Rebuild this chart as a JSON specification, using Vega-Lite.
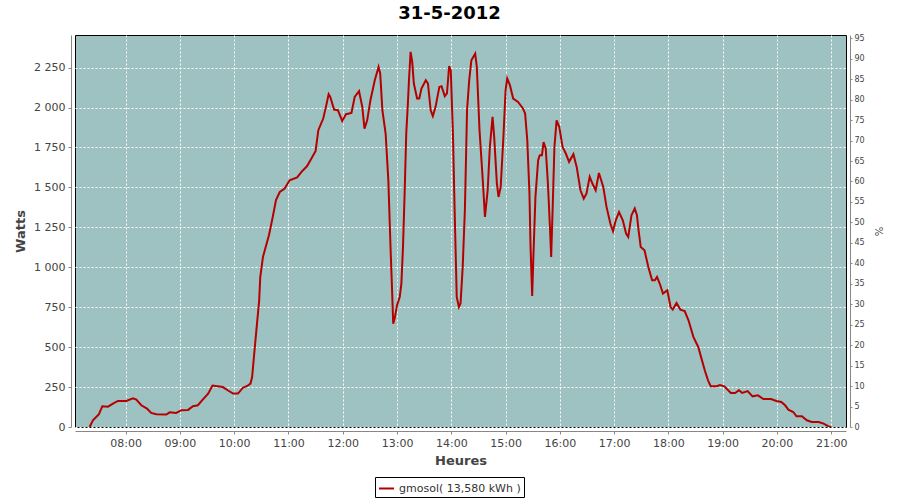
{
  "$schema": "https://vega.github.io/schema/vega-lite/v6.json",
  "width": 771,
  "height": 392,
  "autosize": "none",
  "padding": {"left": 75, "top": 35, "right": 54, "bottom": 73},
  "background": "white",
  "title": {
    "text": "31-5-2012",
    "font": "DejaVu Sans",
    "fontSize": 18,
    "fontWeight": "bold",
    "color": "#000000",
    "anchor": "middle",
    "dx": -11,
    "offset": 11
  },
  "config": {
    "view": {"fill": "#9EC2C2", "stroke": "#000000", "strokeWidth": 1},
    "axis": {
      "labelFont": "DejaVu Sans",
      "titleFont": "DejaVu Sans",
      "labelFontSize": 11,
      "labelColor": "#444444",
      "titleColor": "#444444",
      "titleFontSize": 13,
      "titleFontWeight": "bold",
      "domainColor": "#888888",
      "tickColor": "#888888",
      "gridColor": "#FFFFFF",
      "gridDash": [2, 2],
      "gridOpacity": 1,
      "gridWidth": 1
    }
  },
  "data": {
    "values": [
      {"t": "2012-05-31T07:20:10", "W": 0},
      {"t": "2012-05-31T07:23:49", "W": 42},
      {"t": "2012-05-31T07:30:29", "W": 80},
      {"t": "2012-05-31T07:34:12", "W": 130},
      {"t": "2012-05-31T07:40:26", "W": 127},
      {"t": "2012-05-31T07:45:58", "W": 146},
      {"t": "2012-05-31T07:51:29", "W": 163},
      {"t": "2012-05-31T08:00:36", "W": 163},
      {"t": "2012-05-31T08:08:06", "W": 180},
      {"t": "2012-05-31T08:11:46", "W": 171},
      {"t": "2012-05-31T08:17:17", "W": 136},
      {"t": "2012-05-31T08:23:35", "W": 115},
      {"t": "2012-05-31T08:28:12", "W": 88},
      {"t": "2012-05-31T08:33:54", "W": 80},
      {"t": "2012-05-31T08:45:00", "W": 78},
      {"t": "2012-05-31T08:48:36", "W": 92},
      {"t": "2012-05-31T08:55:48", "W": 88},
      {"t": "2012-05-31T09:01:48", "W": 105},
      {"t": "2012-05-31T09:09:00", "W": 107},
      {"t": "2012-05-31T09:14:24", "W": 130},
      {"t": "2012-05-31T09:19:48", "W": 136},
      {"t": "2012-05-31T09:25:12", "W": 171},
      {"t": "2012-05-31T09:31:12", "W": 209},
      {"t": "2012-05-31T09:36:00", "W": 259},
      {"t": "2012-05-31T09:47:24", "W": 250},
      {"t": "2012-05-31T09:52:48", "W": 230},
      {"t": "2012-05-31T09:58:48", "W": 209},
      {"t": "2012-05-31T10:04:12", "W": 209},
      {"t": "2012-05-31T10:09:36", "W": 246},
      {"t": "2012-05-31T10:15:00", "W": 259},
      {"t": "2012-05-31T10:18:00", "W": 272},
      {"t": "2012-05-31T10:19:48", "W": 313},
      {"t": "2012-05-31T10:22:48", "W": 501},
      {"t": "2012-05-31T10:25:12", "W": 647},
      {"t": "2012-05-31T10:27:36", "W": 793},
      {"t": "2012-05-31T10:28:48", "W": 939},
      {"t": "2012-05-31T10:31:48", "W": 1065},
      {"t": "2012-05-31T10:34:48", "W": 1127},
      {"t": "2012-05-31T10:38:24", "W": 1200},
      {"t": "2012-05-31T10:42:36", "W": 1315},
      {"t": "2012-05-31T10:46:12", "W": 1420},
      {"t": "2012-05-31T10:50:24", "W": 1471},
      {"t": "2012-05-31T10:55:48", "W": 1493},
      {"t": "2012-05-31T11:01:12", "W": 1545},
      {"t": "2012-05-31T11:09:36", "W": 1562},
      {"t": "2012-05-31T11:14:24", "W": 1597},
      {"t": "2012-05-31T11:20:24", "W": 1632},
      {"t": "2012-05-31T11:25:12", "W": 1680},
      {"t": "2012-05-31T11:30:00", "W": 1728},
      {"t": "2012-05-31T11:33:00", "W": 1858},
      {"t": "2012-05-31T11:38:24", "W": 1931},
      {"t": "2012-05-31T11:41:24", "W": 2004},
      {"t": "2012-05-31T11:44:24", "W": 2083},
      {"t": "2012-05-31T11:46:12", "W": 2066},
      {"t": "2012-05-31T11:50:24", "W": 1987},
      {"t": "2012-05-31T11:54:36", "W": 1983},
      {"t": "2012-05-31T11:59:24", "W": 1916},
      {"t": "2012-05-31T12:03:36", "W": 1958},
      {"t": "2012-05-31T12:09:36", "W": 1966},
      {"t": "2012-05-31T12:13:12", "W": 2066},
      {"t": "2012-05-31T12:18:00", "W": 2102},
      {"t": "2012-05-31T12:21:36", "W": 2004},
      {"t": "2012-05-31T12:24:00", "W": 1868},
      {"t": "2012-05-31T12:27:00", "W": 1920},
      {"t": "2012-05-31T12:30:36", "W": 2046},
      {"t": "2012-05-31T12:35:24", "W": 2171},
      {"t": "2012-05-31T12:39:36", "W": 2254},
      {"t": "2012-05-31T12:41:24", "W": 2213},
      {"t": "2012-05-31T12:43:48", "W": 1983},
      {"t": "2012-05-31T12:47:24", "W": 1837},
      {"t": "2012-05-31T12:50:24", "W": 1545},
      {"t": "2012-05-31T12:52:48", "W": 1127},
      {"t": "2012-05-31T12:54:00", "W": 939},
      {"t": "2012-05-31T12:55:48", "W": 647},
      {"t": "2012-05-31T12:57:36", "W": 685},
      {"t": "2012-05-31T13:00:00", "W": 762},
      {"t": "2012-05-31T13:03:00", "W": 814},
      {"t": "2012-05-31T13:04:48", "W": 898},
      {"t": "2012-05-31T13:06:36", "W": 1127},
      {"t": "2012-05-31T13:08:24", "W": 1461},
      {"t": "2012-05-31T13:10:12", "W": 1837},
      {"t": "2012-05-31T13:12:00", "W": 2025},
      {"t": "2012-05-31T13:13:12", "W": 2171},
      {"t": "2012-05-31T13:15:00", "W": 2348},
      {"t": "2012-05-31T13:16:48", "W": 2286},
      {"t": "2012-05-31T13:18:36", "W": 2150},
      {"t": "2012-05-31T13:22:12", "W": 2056},
      {"t": "2012-05-31T13:24:36", "W": 2056},
      {"t": "2012-05-31T13:27:00", "W": 2119},
      {"t": "2012-05-31T13:31:48", "W": 2171},
      {"t": "2012-05-31T13:34:12", "W": 2150},
      {"t": "2012-05-31T13:37:12", "W": 1983},
      {"t": "2012-05-31T13:39:36", "W": 1946},
      {"t": "2012-05-31T13:42:36", "W": 2004},
      {"t": "2012-05-31T13:46:48", "W": 2129},
      {"t": "2012-05-31T13:49:12", "W": 2133},
      {"t": "2012-05-31T13:52:48", "W": 2071},
      {"t": "2012-05-31T13:55:12", "W": 2088},
      {"t": "2012-05-31T13:57:36", "W": 2259},
      {"t": "2012-05-31T13:59:24", "W": 2234},
      {"t": "2012-05-31T14:01:48", "W": 1837},
      {"t": "2012-05-31T14:03:36", "W": 1378},
      {"t": "2012-05-31T14:06:00", "W": 814},
      {"t": "2012-05-31T14:08:24", "W": 751},
      {"t": "2012-05-31T14:10:12", "W": 773},
      {"t": "2012-05-31T14:12:36", "W": 1002},
      {"t": "2012-05-31T14:15:00", "W": 1357},
      {"t": "2012-05-31T14:17:24", "W": 1983},
      {"t": "2012-05-31T14:19:48", "W": 2171},
      {"t": "2012-05-31T14:22:12", "W": 2296},
      {"t": "2012-05-31T14:26:24", "W": 2338},
      {"t": "2012-05-31T14:28:12", "W": 2254},
      {"t": "2012-05-31T14:31:12", "W": 1858},
      {"t": "2012-05-31T14:34:48", "W": 1545},
      {"t": "2012-05-31T14:37:12", "W": 1315},
      {"t": "2012-05-31T14:40:12", "W": 1482},
      {"t": "2012-05-31T14:42:36", "W": 1753},
      {"t": "2012-05-31T14:45:36", "W": 1941},
      {"t": "2012-05-31T14:47:24", "W": 1816},
      {"t": "2012-05-31T14:50:24", "W": 1524},
      {"t": "2012-05-31T14:52:12", "W": 1440},
      {"t": "2012-05-31T14:54:36", "W": 1503},
      {"t": "2012-05-31T14:57:36", "W": 1816},
      {"t": "2012-05-31T15:00:00", "W": 2108},
      {"t": "2012-05-31T15:01:48", "W": 2182},
      {"t": "2012-05-31T15:04:48", "W": 2140},
      {"t": "2012-05-31T15:08:24", "W": 2056},
      {"t": "2012-05-31T15:13:48", "W": 2035},
      {"t": "2012-05-31T15:19:12", "W": 1994},
      {"t": "2012-05-31T15:21:36", "W": 1962},
      {"t": "2012-05-31T15:24:00", "W": 1795},
      {"t": "2012-05-31T15:26:24", "W": 1461},
      {"t": "2012-05-31T15:27:36", "W": 1127},
      {"t": "2012-05-31T15:29:24", "W": 820},
      {"t": "2012-05-31T15:30:36", "W": 1044},
      {"t": "2012-05-31T15:33:00", "W": 1440},
      {"t": "2012-05-31T15:36:00", "W": 1670},
      {"t": "2012-05-31T15:37:48", "W": 1701},
      {"t": "2012-05-31T15:40:12", "W": 1701},
      {"t": "2012-05-31T15:42:00", "W": 1784},
      {"t": "2012-05-31T15:44:24", "W": 1743},
      {"t": "2012-05-31T15:46:48", "W": 1524},
      {"t": "2012-05-31T15:49:12", "W": 1232},
      {"t": "2012-05-31T15:50:24", "W": 1065},
      {"t": "2012-05-31T15:52:12", "W": 1399},
      {"t": "2012-05-31T15:54:00", "W": 1753},
      {"t": "2012-05-31T15:56:24", "W": 1920},
      {"t": "2012-05-31T15:59:24", "W": 1878},
      {"t": "2012-05-31T16:03:00", "W": 1753},
      {"t": "2012-05-31T16:06:36", "W": 1712},
      {"t": "2012-05-31T16:10:12", "W": 1660},
      {"t": "2012-05-31T16:15:00", "W": 1708},
      {"t": "2012-05-31T16:18:36", "W": 1628},
      {"t": "2012-05-31T16:22:48", "W": 1482},
      {"t": "2012-05-31T16:26:24", "W": 1430},
      {"t": "2012-05-31T16:29:24", "W": 1461},
      {"t": "2012-05-31T16:33:00", "W": 1566},
      {"t": "2012-05-31T16:36:00", "W": 1524},
      {"t": "2012-05-31T16:39:36", "W": 1482},
      {"t": "2012-05-31T16:43:12", "W": 1590},
      {"t": "2012-05-31T16:48:00", "W": 1503},
      {"t": "2012-05-31T16:51:36", "W": 1378},
      {"t": "2012-05-31T16:55:48", "W": 1274},
      {"t": "2012-05-31T16:58:48", "W": 1225},
      {"t": "2012-05-31T17:01:48", "W": 1294},
      {"t": "2012-05-31T17:05:24", "W": 1346},
      {"t": "2012-05-31T17:09:36", "W": 1294},
      {"t": "2012-05-31T17:13:12", "W": 1211},
      {"t": "2012-05-31T17:15:36", "W": 1190},
      {"t": "2012-05-31T17:19:12", "W": 1326},
      {"t": "2012-05-31T17:22:48", "W": 1368},
      {"t": "2012-05-31T17:25:12", "W": 1326},
      {"t": "2012-05-31T17:27:00", "W": 1232},
      {"t": "2012-05-31T17:29:24", "W": 1127},
      {"t": "2012-05-31T17:33:36", "W": 1106},
      {"t": "2012-05-31T17:37:48", "W": 1002},
      {"t": "2012-05-31T17:42:00", "W": 918},
      {"t": "2012-05-31T17:45:00", "W": 918},
      {"t": "2012-05-31T17:47:24", "W": 939},
      {"t": "2012-05-31T17:50:24", "W": 898},
      {"t": "2012-05-31T17:54:00", "W": 835},
      {"t": "2012-05-31T17:58:48", "W": 856},
      {"t": "2012-05-31T18:02:24", "W": 751},
      {"t": "2012-05-31T18:04:48", "W": 735},
      {"t": "2012-05-31T18:09:00", "W": 776},
      {"t": "2012-05-31T18:13:12", "W": 735},
      {"t": "2012-05-31T18:18:00", "W": 726},
      {"t": "2012-05-31T18:22:12", "W": 668},
      {"t": "2012-05-31T18:27:36", "W": 564},
      {"t": "2012-05-31T18:33:00", "W": 501},
      {"t": "2012-05-31T18:36:36", "W": 428},
      {"t": "2012-05-31T18:40:12", "W": 355},
      {"t": "2012-05-31T18:43:48", "W": 292},
      {"t": "2012-05-31T18:46:48", "W": 255},
      {"t": "2012-05-31T18:53:24", "W": 255},
      {"t": "2012-05-31T18:57:00", "W": 263},
      {"t": "2012-05-31T19:01:48", "W": 255},
      {"t": "2012-05-31T19:09:00", "W": 213},
      {"t": "2012-05-31T19:13:48", "W": 213},
      {"t": "2012-05-31T19:18:00", "W": 230},
      {"t": "2012-05-31T19:21:36", "W": 213},
      {"t": "2012-05-31T19:27:36", "W": 225},
      {"t": "2012-05-31T19:33:00", "W": 192},
      {"t": "2012-05-31T19:39:00", "W": 198},
      {"t": "2012-05-31T19:45:00", "W": 175},
      {"t": "2012-05-31T19:53:24", "W": 175},
      {"t": "2012-05-31T19:59:24", "W": 163},
      {"t": "2012-05-31T20:04:48", "W": 157},
      {"t": "2012-05-31T20:09:00", "W": 136},
      {"t": "2012-05-31T20:12:36", "W": 109},
      {"t": "2012-05-31T20:18:00", "W": 94},
      {"t": "2012-05-31T20:21:36", "W": 67},
      {"t": "2012-05-31T20:27:36", "W": 67},
      {"t": "2012-05-31T20:33:00", "W": 42},
      {"t": "2012-05-31T20:38:24", "W": 31},
      {"t": "2012-05-31T20:46:12", "W": 31},
      {"t": "2012-05-31T20:51:36", "W": 21},
      {"t": "2012-05-31T20:57:00", "W": 4},
      {"t": "2012-05-31T21:00:00", "W": 0}
    ]
  },
  "layer": [
    {
      "mark": {"type": "line", "strokeWidth": 2, "interpolate": "linear", "clip": true},
      "encoding": {
        "x": {
          "field": "t",
          "type": "temporal",
          "scale": {
            "domain": [
              {"year": 2012, "month": 5, "date": 31, "hours": 7, "minutes": 4},
              {"year": 2012, "month": 5, "date": 31, "hours": 21, "minutes": 16, "seconds": 20}
            ],
            "nice": false
          },
          "axis": {
            "title": "Heures",
            "format": "%H:%M",
            "values": [
              {"year": 2012, "month": 5, "date": 31, "hours": 8},
              {"year": 2012, "month": 5, "date": 31, "hours": 9},
              {"year": 2012, "month": 5, "date": 31, "hours": 10},
              {"year": 2012, "month": 5, "date": 31, "hours": 11},
              {"year": 2012, "month": 5, "date": 31, "hours": 12},
              {"year": 2012, "month": 5, "date": 31, "hours": 13},
              {"year": 2012, "month": 5, "date": 31, "hours": 14},
              {"year": 2012, "month": 5, "date": 31, "hours": 15},
              {"year": 2012, "month": 5, "date": 31, "hours": 16},
              {"year": 2012, "month": 5, "date": 31, "hours": 17},
              {"year": 2012, "month": 5, "date": 31, "hours": 18},
              {"year": 2012, "month": 5, "date": 31, "hours": 19},
              {"year": 2012, "month": 5, "date": 31, "hours": 20},
              {"year": 2012, "month": 5, "date": 31, "hours": 21}
            ],
            "offset": 4,
            "tickSize": 3,
            "labelPadding": 3,
            "titlePadding": 6,
            "labelFlush": false,
            "labelOverlap": false,
            "grid": true
          }
        },
        "y": {
          "field": "W",
          "type": "quantitative",
          "scale": {"domain": [0, 2454], "nice": false, "zero": true},
          "axis": {
            "title": "Watts",
            "values": [0, 250, 500, 750, 1000, 1250, 1500, 1750, 2000, 2250],
            "labelExpr": "replace(format(datum.value, ','), ',', ' ')",
            "offset": 4,
            "tickSize": 3,
            "labelPadding": 3,
            "titlePadding": 6,
            "grid": true
          }
        },
        "color": {
          "datum": "gmosol( 13,580 kWh )",
          "type": "nominal",
          "scale": {"range": ["#B50000"]},
          "legend": {
            "orient": "none",
            "legendX": 300,
            "legendY": 442,
            "title": null,
            "strokeColor": "#000000",
            "fillColor": "#FFFFFF",
            "padding": 3,
            "cornerRadius": 0,
            "symbolType": "stroke",
            "symbolSize": 225,
            "symbolStrokeWidth": 2,
            "labelFont": "DejaVu Sans",
            "labelFontSize": 11,
            "labelColor": "#333333",
            "labelOffset": 4
          }
        }
      }
    },
    {
      "mark": {"type": "rule", "opacity": 0},
      "encoding": {
        "y": {
          "datum": 0,
          "type": "quantitative",
          "scale": {"domain": [0, 95.8], "nice": false, "zero": true},
          "axis": {
            "orient": "right",
            "title": "%",
            "values": [0, 5, 10, 15, 20, 25, 30, 35, 40, 45, 50, 55, 60, 65, 70, 75, 80, 85, 90, 95],
            "offset": 4,
            "tickSize": 2,
            "labelPadding": 2,
            "labelFontSize": 8,
            "labelOverlap": false,
            "titleFontSize": 10,
            "titleFontWeight": "normal",
            "titlePadding": 8,
            "grid": false
          }
        }
      }
    }
  ],
  "resolve": {"scale": {"y": "independent"}}
}
